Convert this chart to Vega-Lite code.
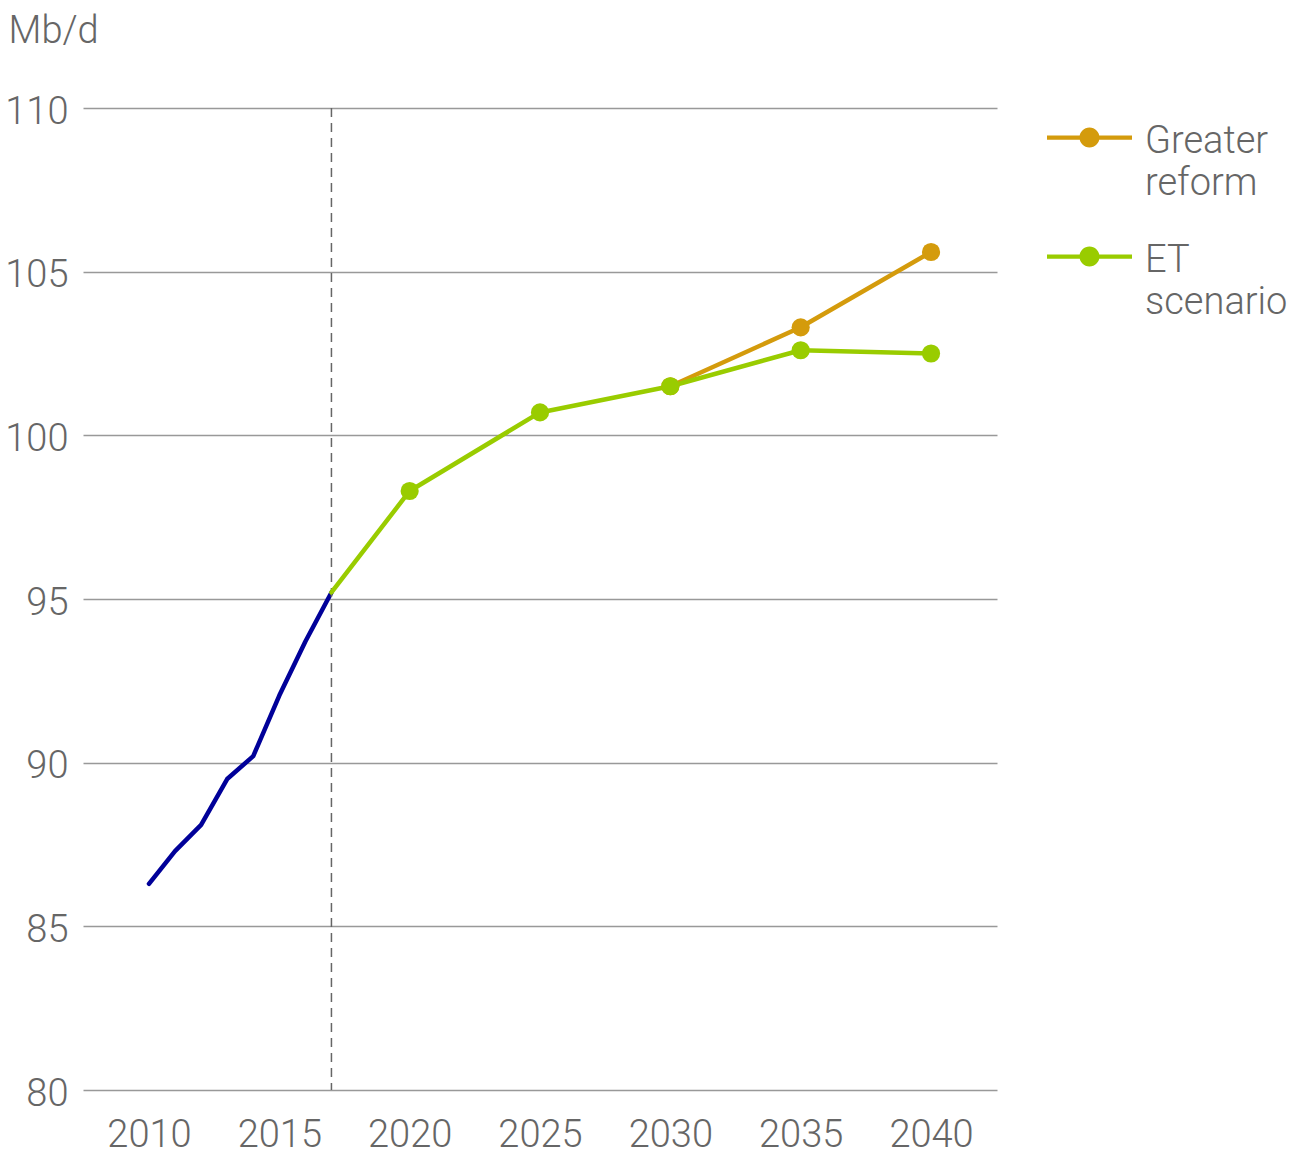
{
  "$schema": "https://vega.github.io/schema/vega-lite/v6.json",
  "autosize": "none",
  "width": 914,
  "height": 982,
  "padding": {"left": 83, "top": 108, "right": 310, "bottom": 65},
  "background": "white",
  "config": {
    "view": {"stroke": null},
    "font": "Roboto",
    "axis": {"labelFont": "Roboto", "labelFontWeight": 300, "labelColor": "#666666", "labelFontSize": 38, "titleFont": "Roboto"},
    "legend": {
      "labelFont": "Roboto",
      "title": null,
      "orient": "none",
      "legendX": 964,
      "legendY": -13,
      "padding": 0,
      "symbolType": "M-1,-0.05H1V0.05H-1Z M-0.235,0A0.235,0.235,0,1,1,0.235,0A0.235,0.235,0,1,1,-0.235,0Z",
      "symbolSize": 7225,
      "symbolStrokeWidth": 0,
      "symbolOpacity": 1,
      "labelFontSize": 38,
      "labelFontWeight": 300,
      "labelColor": "#666666",
      "labelOffset": 13,
      "labelLimit": 300,
      "labelBaseline": "top",
      "rowPadding": 11
    }
  },
  "datasets": {
    "hist": [
      {"year": 2010, "value": 86.3},
      {"year": 2011, "value": 87.3},
      {"year": 2012, "value": 88.1},
      {"year": 2013, "value": 89.5},
      {"year": 2014, "value": 90.2},
      {"year": 2015, "value": 92.05},
      {"year": 2016, "value": 93.7},
      {"year": 2017, "value": 95.2}
    ],
    "scen": [
      {"scenario": "Greater reform", "year": 2030, "value": 101.5},
      {"scenario": "Greater reform", "year": 2035, "value": 103.3},
      {"scenario": "Greater reform", "year": 2040, "value": 105.6},
      {"scenario": "ET scenario", "year": 2017, "value": 95.2},
      {"scenario": "ET scenario", "year": 2020, "value": 98.3},
      {"scenario": "ET scenario", "year": 2025, "value": 100.7},
      {"scenario": "ET scenario", "year": 2030, "value": 101.5},
      {"scenario": "ET scenario", "year": 2035, "value": 102.6},
      {"scenario": "ET scenario", "year": 2040, "value": 102.5}
    ],
    "marker": [{"year": 2017}]
  },
  "encoding": {
    "x": {
      "field": "year", "type": "quantitative",
      "scale": {"domain": [2007.47, 2042.53], "nice": false, "zero": false},
      "axis": {"values": [2010, 2015, 2020, 2025, 2030, 2035, 2040], "format": "d", "grid": false, "domain": false, "ticks": false, "labelPadding": 26, "title": null}
    }
  },
  "layer": [
    {
      "data": {"name": "hist"},
      "mark": {"type": "line", "color": "#000099", "strokeWidth": 4.5, "strokeCap": "round", "strokeJoin": "round"},
      "encoding": {
        "y": {
          "field": "value", "type": "quantitative",
          "scale": {"domain": [80, 110], "nice": false, "zero": false},
          "axis": {
            "values": [80, 85, 90, 95, 100, 105, 110],
            "grid": true, "gridColor": "#999999", "gridWidth": 1.5, "gridOpacity": 1,
            "domain": false, "ticks": false, "labelPadding": 15, "labelOffset": 4,
            "title": "Mb/d", "titleAngle": 0, "titleAlign": "left", "titleBaseline": "alphabetic",
            "titleX": -75, "titleY": -66, "titleFontSize": 38, "titleFontWeight": 300, "titleColor": "#666666"
          }
        }
      }
    },
    {
      "data": {"name": "marker"},
      "mark": {"type": "rule", "color": "#666666", "strokeWidth": 1.5, "strokeDash": [9, 6]},
      "encoding": {}
    },
    {
      "data": {"name": "scen"},
      "transform": [{"filter": "datum.scenario === 'Greater reform'"}],
      "mark": {"type": "line", "strokeWidth": 4.5, "strokeCap": "round", "strokeJoin": "round"},
      "encoding": {
        "y": {"field": "value", "type": "quantitative"},
        "color": {"field": "scenario", "type": "nominal", "scale": {"domain": ["Greater reform", "ET scenario"], "range": ["#d49b0c", "#99cc00"]},
          "legend": {"labelExpr": "datum.label === 'Greater reform' ? ['Greater', 'reform'] : ['ET', 'scenario']", "encode": {"labels": {"update": {"lineHeight": {"value": 42}, "dy": {"value": -15}}}}}}
      }
    },
    {
      "data": {"name": "scen"},
      "transform": [{"filter": "datum.scenario === 'ET scenario'"}],
      "mark": {"type": "line", "strokeWidth": 4.5, "strokeCap": "round", "strokeJoin": "round"},
      "encoding": {
        "y": {"field": "value", "type": "quantitative"},
        "color": {"field": "scenario", "type": "nominal",
          "legend": {"labelExpr": "datum.label === 'Greater reform' ? ['Greater', 'reform'] : ['ET', 'scenario']", "encode": {"labels": {"update": {"lineHeight": {"value": 42}, "dy": {"value": -15}}}}}}
      }
    },
    {
      "data": {"name": "scen"},
      "transform": [{"filter": "datum.year > 2017"}],
      "mark": {"type": "point", "filled": true, "opacity": 1, "size": 330, "strokeWidth": 0},
      "encoding": {
        "y": {"field": "value", "type": "quantitative"},
        "color": {
          "field": "scenario", "type": "nominal",
          "legend": {"labelExpr": "datum.label === 'Greater reform' ? ['Greater', 'reform'] : ['ET', 'scenario']", "encode": {"labels": {"update": {"lineHeight": {"value": 42}, "dy": {"value": -15}}}}}
        }
      }
    }
  ]
}
